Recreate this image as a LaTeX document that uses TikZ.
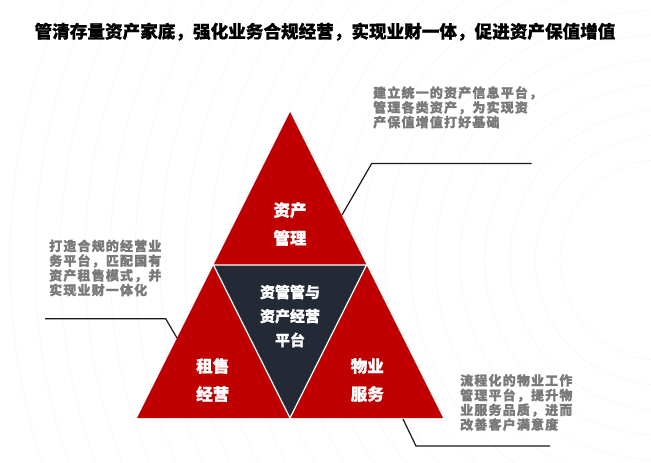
\documentclass[tikz,border=0pt]{standalone}
\usepackage{fontspec}
\setmainfont{Noto Sans CJK SC}
\definecolor{tred}{HTML}{C00000}
\definecolor{tdark}{HTML}{232A35}
\definecolor{tgray}{HTML}{7A7A7A}
\tikzset{
  desc/.style={anchor=north west, inner sep=0pt, align=left, text=tgray,
    font=\fontsize{13}{14.7}\selectfont\bfseries\addfontfeatures{LetterSpace=9,FakeBold=1.2}},
  trilabel/.style={inner sep=0pt, align=center, text=white,
    font=\fontsize{16.5}{28}\selectfont\bfseries\addfontfeatures{FakeBold=0.8}},
  midlabel/.style={inner sep=0pt, align=center, text=white,
    font=\fontsize{15}{24}\selectfont\bfseries\addfontfeatures{FakeBold=0.8}},
  conn/.style={draw=black!90, line width=1.2pt},
}
\begin{document}
\begin{tikzpicture}[x=1pt,y=-1pt]
\useasboundingbox (0,0) rectangle (651,463);
\fill[white] (0,0) rectangle (651,463);
\begin{scope}
\clip (0,0) rectangle (651,463);
\foreach \r in {100,125,...,650} \draw[black!3, line width=0.6pt] (660,260) circle (\r);
\end{scope}
% title
\node[inner sep=0pt, font=\fontsize{17.6}{20}\selectfont\bfseries\addfontfeatures{FakeBold=0.6}] (title) at (325,31.7) {管清存量资产家底，强化业务合规经营，实现业财一体，促进资产保值增值};
% triangle corners
\coordinate (A) at (290,112);
\coordinate (BL) at (137,418);
\coordinate (BR) at (443,418);
\coordinate (ML) at (213.5,265);
\coordinate (MR) at (366.5,265);
\coordinate (MB) at (290,418);
\fill[tred] (A) -- (ML) -- (MR) -- cycle;
\fill[tred] (ML) -- (BL) -- (MB) -- cycle;
\fill[tred] (MR) -- (MB) -- (BR) -- cycle;
\fill[tdark] (ML) -- (MR) -- (MB) -- cycle;
\draw[white, line width=1.3pt, line join=miter] (ML) -- (MR) -- (MB) -- cycle;
% labels
\node[trilabel] (top) at (290,224) {资产\\管理};
\node[midlabel] (mid) at (290,316) {资管管与\\资产经营\\平台};
\node[trilabel] (left) at (212.7,380) {租售\\经营};
\node[trilabel] (right) at (367.3,380) {物业\\服务};
% descriptions
\node[desc] (d1) at (373,86) {建立统一的资产信息平台，\\管理各类资产，为实现资\\产保值增值打好基础};
\node[desc] (d2) at (49,239.5) {打造合规的经营业\\务平台，匹配国有\\资产租售模式，并\\实现业财一体化};
\node[desc] (d3) at (460,374) {流程化的物业工作\\管理平台，提升物\\业服务品质，进而\\改善客户满意度};
% connectors
\coordinate (c1a) at (531.7,163.5);
\coordinate (c1b) at (371.7,163.5);
\coordinate (c1c) at (342,215);
\draw[conn] (c1a) -- (c1b) -- (c1c);
\coordinate (c2a) at (45,318.7);
\coordinate (c2b) at (165.7,318.7);
\coordinate (c2c) at (177,338);
\draw[conn] (c2a) -- (c2b) -- (c2c);
\coordinate (c3a) at (550,446);
\coordinate (c3b) at (416,446);
\coordinate (c3c) at (403,419);
\draw[conn] (c3a) -- (c3b) -- (c3c);
\end{tikzpicture}
\end{document}
